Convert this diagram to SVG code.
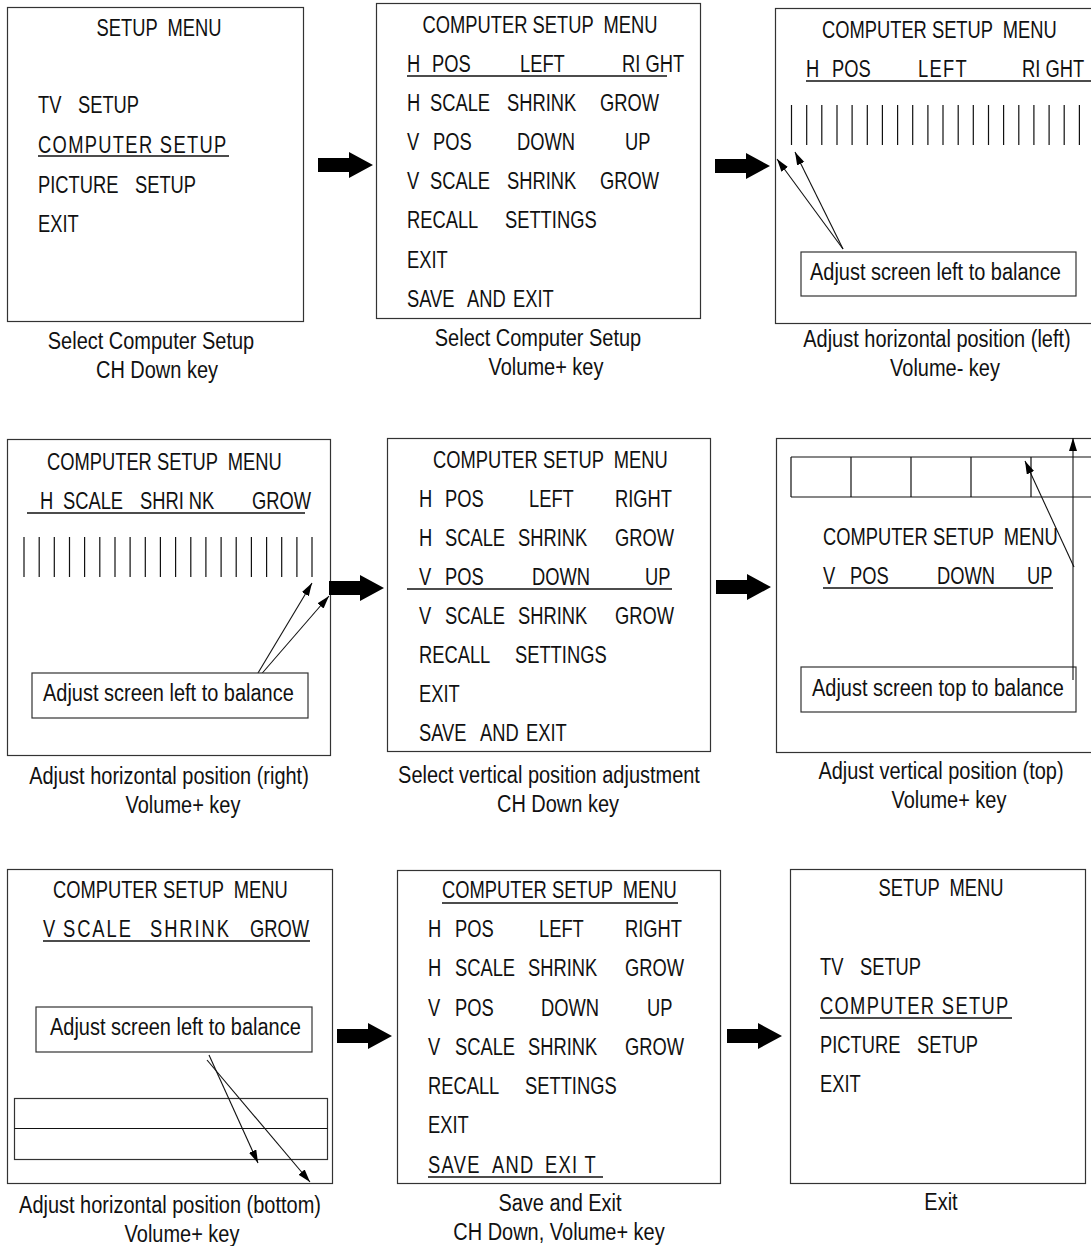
<svg xmlns="http://www.w3.org/2000/svg" width="1091" height="1246" viewBox="0 0 1091 1246">
<style>
text{font-family:"Liberation Sans",Arial,sans-serif;font-size:23.5px;fill:#111;white-space:pre}
.c{text-anchor:middle}
.sp{letter-spacing:1.7px}
.sp2{letter-spacing:2.5px}
.frame{fill:#fff;stroke:#333;stroke-width:1.2}
.ln{fill:none;stroke:#111;stroke-width:1.2}
.ul{stroke:#111;stroke-width:1.3}
.arw{fill:none;stroke:#111;stroke-width:1.1;marker-end:url(#ah)}
.big{fill:#000}
</style>
<defs>
<marker id="ah" markerUnits="userSpaceOnUse" markerWidth="14" markerHeight="9" refX="13" refY="4" orient="auto">
<path d="M0,0 L13,4 L0,8 Z" fill="#000"/>
</marker>
<path id="bigArrow" d="M0,-7 H31 V-13 L55,0 L31,13 V7 H0 Z"/>
</defs>
<rect width="1091" height="1246" fill="#fff"/>

<!-- Panel 1 -->
<g id="panel1">
<rect class="frame" x="7.5" y="7.5" width="296" height="314"/>
<line class="ul" x1="38" y1="156" x2="229" y2="156"/>
<g transform="scale(0.78 1)">
<text x="203.85" y="36" class="c">SETUP  MENU</text>
<text x="48.72" y="113">TV</text><text x="100" y="113">SETUP</text>
<text x="48.72" y="153" class="sp">COMPUTER SETUP</text>
<text x="48.72" y="193">PICTURE</text><text x="173.08" y="193">SETUP</text>
<text x="48.72" y="232">EXIT</text>
</g>
<g transform="scale(0.85 1)">
<text x="177.65" y="349" class="c">Select Computer Setup</text>
<text x="184.71" y="378" class="c">CH Down key</text>
</g>
</g>

<!-- Panel 2 -->
<g id="panel2">
<rect class="frame" x="376.5" y="3.5" width="324" height="315"/>
<line class="ul" x1="407" y1="76" x2="667" y2="76"/>
<g transform="scale(0.78 1)">
<text x="692.31" y="33" class="c">COMPUTER SETUP  MENU</text>
<text x="521.79" y="72">H</text><text x="553.85" y="72">POS</text><text x="666.67" y="72">LEFT</text><text x="797.44" y="72">RI GHT</text>
<text x="521.79" y="111">H</text><text x="551.28" y="111">SCALE</text><text x="650" y="111">SHRINK</text><text x="769.23" y="111">GROW</text>
<text x="521.79" y="150">V</text><text x="555.13" y="150">POS</text><text x="662.82" y="150">DOWN</text><text x="801.28" y="150">UP</text>
<text x="521.79" y="189">V</text><text x="551.28" y="189">SCALE</text><text x="650" y="189">SHRINK</text><text x="769.23" y="189">GROW</text>
<text x="521.79" y="228">RECALL</text><text x="647.44" y="228">SETTINGS</text>
<text x="521.79" y="268">EXIT</text>
<text x="521.79" y="307">SAVE</text><text x="598.72" y="307">AND</text><text x="657.69" y="307">EXIT</text>
</g>
<g transform="scale(0.85 1)">
<text x="632.94" y="346" class="c">Select Computer Setup</text>
<text x="642.35" y="375" class="c">Volume+ key</text>
</g>
</g>

<!-- Panel 3 -->
<g id="panel3">
<rect class="frame" x="775.5" y="8.5" width="330" height="315"/>
<line class="ul" x1="806" y1="81" x2="1091" y2="81"/>
<path class="ln" d="M791.5,105V145M806.7,105V145M821.8,105V145M837,105V145M852.1,105V145M867.3,105V145M882.4,105V145M897.6,105V145M912.7,105V145M927.9,105V145M943,105V145M958.2,105V145M973.3,105V145M988.5,105V145M1003.6,105V145M1018.8,105V145M1033.9,105V145M1049.1,105V145M1064.2,105V145M1079.4,105V145"/>
<line class="arw" x1="843" y1="249" x2="777" y2="159"/>
<line class="arw" x1="843" y1="249" x2="795" y2="152"/>
<rect class="frame" x="801" y="252" width="275" height="44"/>
<g transform="scale(0.78 1)">
<text x="1053.85" y="38">COMPUTER SETUP  MENU</text>
<text x="1033.33" y="77">H</text><text x="1066.67" y="77">POS</text><text x="1176.92" y="77" class="sp">LEFT</text><text x="1310.26" y="77">RI GHT</text>
</g>
<g transform="scale(0.85 1)">
<text x="952.94" y="280">Adjust screen left to balance</text>
<text x="1102.35" y="347" class="c">Adjust horizontal position (left)</text>
<text x="1111.76" y="376" class="c">Volume- key</text>
</g>
</g>

<!-- Panel 4 -->
<g id="panel4">
<rect class="frame" x="7.5" y="439.5" width="323" height="316"/>
<line class="ul" x1="27" y1="513" x2="305" y2="513"/>
<path class="ln" d="M24,537V577M39.2,537V577M54.3,537V577M69.5,537V577M84.6,537V577M99.8,537V577M115,537V577M130.1,537V577M145.3,537V577M160.4,537V577M175.6,537V577M190.8,537V577M205.9,537V577M221.1,537V577M236.2,537V577M251.4,537V577M266.6,537V577M281.7,537V577M296.9,537V577M312,537V577"/>
<line class="arw" x1="255" y1="678" x2="312" y2="583"/>
<line class="arw" x1="258" y1="678" x2="329" y2="596"/>
<rect class="frame" x="32" y="673" width="276" height="45"/>
<g transform="scale(0.78 1)">
<text x="60.26" y="470">COMPUTER SETUP  MENU</text>
<text x="51.28" y="509">H</text><text x="80.77" y="509">SCALE</text><text x="179.49" y="509">SHRI NK</text><text x="323.08" y="509">GROW</text>
</g>
<g transform="scale(0.85 1)">
<text x="50.59" y="701">Adjust screen left to balance</text>
<text x="198.82" y="784" class="c">Adjust horizontal position (right)</text>
<text x="215.29" y="813" class="c">Volume+ key</text>
</g>
</g>

<!-- Panel 5 -->
<g id="panel5">
<rect class="frame" x="387.5" y="438.5" width="323" height="313"/>
<line class="ul" x1="407" y1="589" x2="672" y2="589"/>
<g transform="scale(0.78 1)">
<text x="555.13" y="468">COMPUTER SETUP  MENU</text>
<text x="537.18" y="507">H</text><text x="570.51" y="507">POS</text><text x="678.21" y="507">LEFT</text><text x="788.46" y="507">RIGHT</text>
<text x="537.18" y="546">H</text><text x="570.51" y="546">SCALE</text><text x="664.10" y="546">SHRINK</text><text x="788.46" y="546">GROW</text>
<text x="537.18" y="585">V</text><text x="570.51" y="585">POS</text><text x="682.05" y="585">DOWN</text><text x="826.92" y="585">UP</text>
<text x="537.18" y="624">V</text><text x="570.51" y="624">SCALE</text><text x="664.10" y="624">SHRINK</text><text x="788.46" y="624">GROW</text>
<text x="537.18" y="663">RECALL</text><text x="660.26" y="663">SETTINGS</text>
<text x="537.18" y="702">EXIT</text>
<text x="537.18" y="741">SAVE</text><text x="615.38" y="741">AND</text><text x="674.36" y="741">EXIT</text>
</g>
<g transform="scale(0.85 1)">
<text x="645.88" y="783" class="c">Select vertical position adjustment</text>
<text x="656.47" y="812" class="c">CH Down key</text>
</g>
</g>

<!-- Panel 6 -->
<g id="panel6">
<rect class="frame" x="776.5" y="438.5" width="330" height="314"/>
<path class="ln" d="M791,457H1091M791,497H1091M791,457V497M851,457V497M911,457V497M971,457V497M1031,457V497"/>
<line class="ul" x1="823" y1="588" x2="1053" y2="588"/>
<line class="arw" x1="1074" y1="567" x2="1025" y2="461"/>
<rect class="frame" x="801" y="667" width="275" height="45"/>
<line class="arw" x1="1073" y1="680" x2="1073" y2="438"/>
<g transform="scale(0.78 1)">
<text x="1055.13" y="545">COMPUTER SETUP  MENU</text>
<text x="1055.13" y="584">V</text><text x="1089.74" y="584">POS</text><text x="1201.28" y="584">DOWN</text><text x="1316.67" y="584">UP</text>
</g>
<g transform="scale(0.85 1)">
<text x="955.29" y="696">Adjust screen top to balance</text>
<text x="1107.06" y="779" class="c">Adjust vertical position (top)</text>
<text x="1116.47" y="808" class="c">Volume+ key</text>
</g>
</g>

<!-- Panel 7 -->
<g id="panel7">
<rect class="frame" x="7.5" y="869.5" width="325" height="314"/>
<line class="ul" x1="43" y1="941" x2="310" y2="941"/>
<rect class="frame" x="36" y="1007" width="276" height="45"/>
<rect class="frame" x="14.5" y="1098.5" width="313" height="61"/>
<line class="ln" x1="14.5" y1="1128.5" x2="327.5" y2="1128.5"/>
<line class="arw" x1="209" y1="1055" x2="258" y2="1163"/>
<line class="arw" x1="207" y1="1060" x2="310" y2="1182"/>
<g transform="scale(0.78 1)">
<text x="67.95" y="898">COMPUTER SETUP  MENU</text>
<text x="55.13" y="937">V</text><text x="80.77" y="937" class="sp2">SCALE</text><text x="192.31" y="937" class="sp2">SHRINK</text><text x="320.51" y="937">GROW</text>
</g>
<g transform="scale(0.85 1)">
<text x="58.82" y="1035">Adjust screen left to balance</text>
<text x="200" y="1213" class="c">Adjust horizontal position (bottom)</text>
<text x="214.12" y="1242" class="c">Volume+ key</text>
</g>
</g>

<!-- Panel 8 -->
<g id="panel8">
<rect class="frame" x="397.5" y="870.5" width="323" height="313"/>
<line class="ul" x1="442" y1="903" x2="678" y2="903"/>
<line class="ul" x1="428" y1="1177" x2="603" y2="1177"/>
<g transform="scale(0.78 1)">
<text x="566.67" y="898">COMPUTER SETUP  MENU</text>
<text x="548.72" y="937">H</text><text x="583.33" y="937">POS</text><text x="691.03" y="937">LEFT</text><text x="801.28" y="937">RIGHT</text>
<text x="548.72" y="976">H</text><text x="583.33" y="976">SCALE</text><text x="676.92" y="976">SHRINK</text><text x="801.28" y="976">GROW</text>
<text x="548.72" y="1016">V</text><text x="583.33" y="1016">POS</text><text x="693.59" y="1016">DOWN</text><text x="829.49" y="1016">UP</text>
<text x="548.72" y="1055">V</text><text x="583.33" y="1055">SCALE</text><text x="676.92" y="1055">SHRINK</text><text x="801.28" y="1055">GROW</text>
<text x="548.72" y="1094">RECALL</text><text x="673.08" y="1094">SETTINGS</text>
<text x="548.72" y="1133">EXIT</text>
<text x="548.72" y="1173" class="sp">SAVE</text><text x="630.77" y="1173" class="sp">AND</text><text x="698.72" y="1173" class="sp">EXI T</text>
</g>
<g transform="scale(0.85 1)">
<text x="658.82" y="1211" class="c">Save and Exit</text>
<text x="657.65" y="1240" class="c">CH Down, Volume+ key</text>
</g>
</g>

<!-- Panel 9 -->
<g id="panel9">
<rect class="frame" x="790.5" y="869.5" width="295" height="314"/>
<line class="ul" x1="820" y1="1018" x2="1012" y2="1018"/>
<g transform="scale(0.78 1)">
<text x="1206.41" y="896" class="c">SETUP  MENU</text>
<text x="1051.28" y="975">TV</text><text x="1102.56" y="975">SETUP</text>
<text x="1051.28" y="1014" class="sp">COMPUTER SETUP</text>
<text x="1051.28" y="1053">PICTURE</text><text x="1175.64" y="1053">SETUP</text>
<text x="1051.28" y="1092">EXIT</text>
</g>
<g transform="scale(0.85 1)">
<text x="1107.06" y="1210" class="c">Exit</text>
</g>
</g>

<!-- Connectors -->
<g id="connectors" class="big">
<use href="#bigArrow" transform="translate(318,165)"/>
<use href="#bigArrow" transform="translate(715,166)"/>
<use href="#bigArrow" transform="translate(329,588)"/>
<use href="#bigArrow" transform="translate(716,587)"/>
<use href="#bigArrow" transform="translate(337,1036)"/>
<use href="#bigArrow" transform="translate(727,1036)"/>
</g>
</svg>
